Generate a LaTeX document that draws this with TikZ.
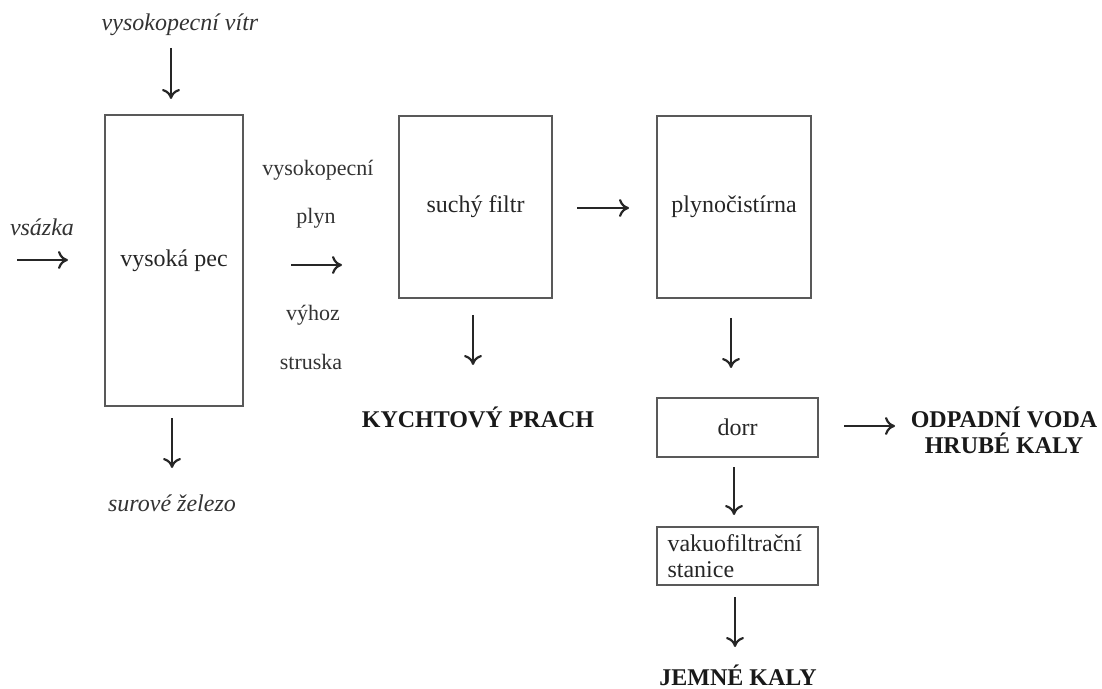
\documentclass[tikz,border=0pt]{standalone}
\usepackage{fontspec}
\setmainfont{Liberation Serif}
\usetikzlibrary{arrows.meta,positioning}

\begin{document}
\begin{tikzpicture}[x=0.5pt,y=-0.5pt]
	\tikzstyle{Box}		= [rectangle, draw=black!65, line width=0.6pt, inner sep=0pt, text=black!85, font=\fontsize{12}{13}\selectfont]
	\tikzstyle{Input}	= [text=black!80, font=\fontsize{12}{14}\selectfont\itshape]
	\tikzstyle{Side}	= [text=black!80, font=\fontsize{11}{13}\selectfont]
	\tikzstyle{Output}	= [text=black!90, align=center, font=\fontsize{12}{13}\selectfont\bfseries]
	\tikzstyle{Flow}	= [line width=1.1pt, black!85, -{To[length=5pt,width=9pt]}]

	\useasboundingbox (0,0) rectangle (1102,689);

	% units
	\node (pec)    at (174,260.5) [Box, minimum width=69pt, minimum height=145.5pt] {vysoká pec};
	\node (filtr)  at (475.5,207) [Box, minimum width=76.5pt, minimum height=91pt] {suchý filtr};
	\node (cist)   at (734,207)   [Box, minimum width=77pt, minimum height=91pt] {plynočistírna};
	\node (dorr)   at (737.5,427.5) [Box, minimum width=80.5pt, minimum height=29.5pt] {dorr};
	\node (vakuo)  at (737.5,556) [Box, align=left, text width=70pt, inner xsep=5.25pt, minimum height=29pt] {vakuofiltrační\\stanice};

	% inputs and outputs
	\node (vitr)   at (180,25)  [Input] {vysokopecní vítr};
	\node (vsazka) at (42,227)  [Input] {vsázka};
	\node (zelezo) at (172,503) [Input] {surové železo};
	\foreach \n/\x/\y/\t in {vpl/318/170/vysokopecní, plyn/316/218/plyn, vyhoz/313/315/výhoz, struska/311/362/struska}
		\node (\n) at (\x,\y) [Side] {\t};
	\node (prach)  at (478,417)  [Output] {KYCHTOVÝ PRACH};
	\node (voda)   at (1004,430) [Output] {ODPADNÍ VODA\\HRUBÉ KALY};
	\node (jemne)  at (738,675)  [Output] {JEMNÉ KALY};

	% flows
	\foreach \n/\xa/\ya/\xb/\yb in {fvitr/171/48/171/99, fvsazka/17/260/68/260, fplyn/291/265/342/265, ffiltr/577/208/629/208, fprach/473/315/473/365, fzelezo/172/418/172/468, fcist/731/318/731/368, fvoda/844/426/895/426, fdorr/734/467/734/515, fkaly/735/597/735/647}
	{
		\coordinate (\n-a) at (\xa,\ya);
		\coordinate (\n-b) at (\xb,\yb);
		\draw [Flow] (\n-a) -- (\n-b);
	}
\end{tikzpicture}
\end{document}
